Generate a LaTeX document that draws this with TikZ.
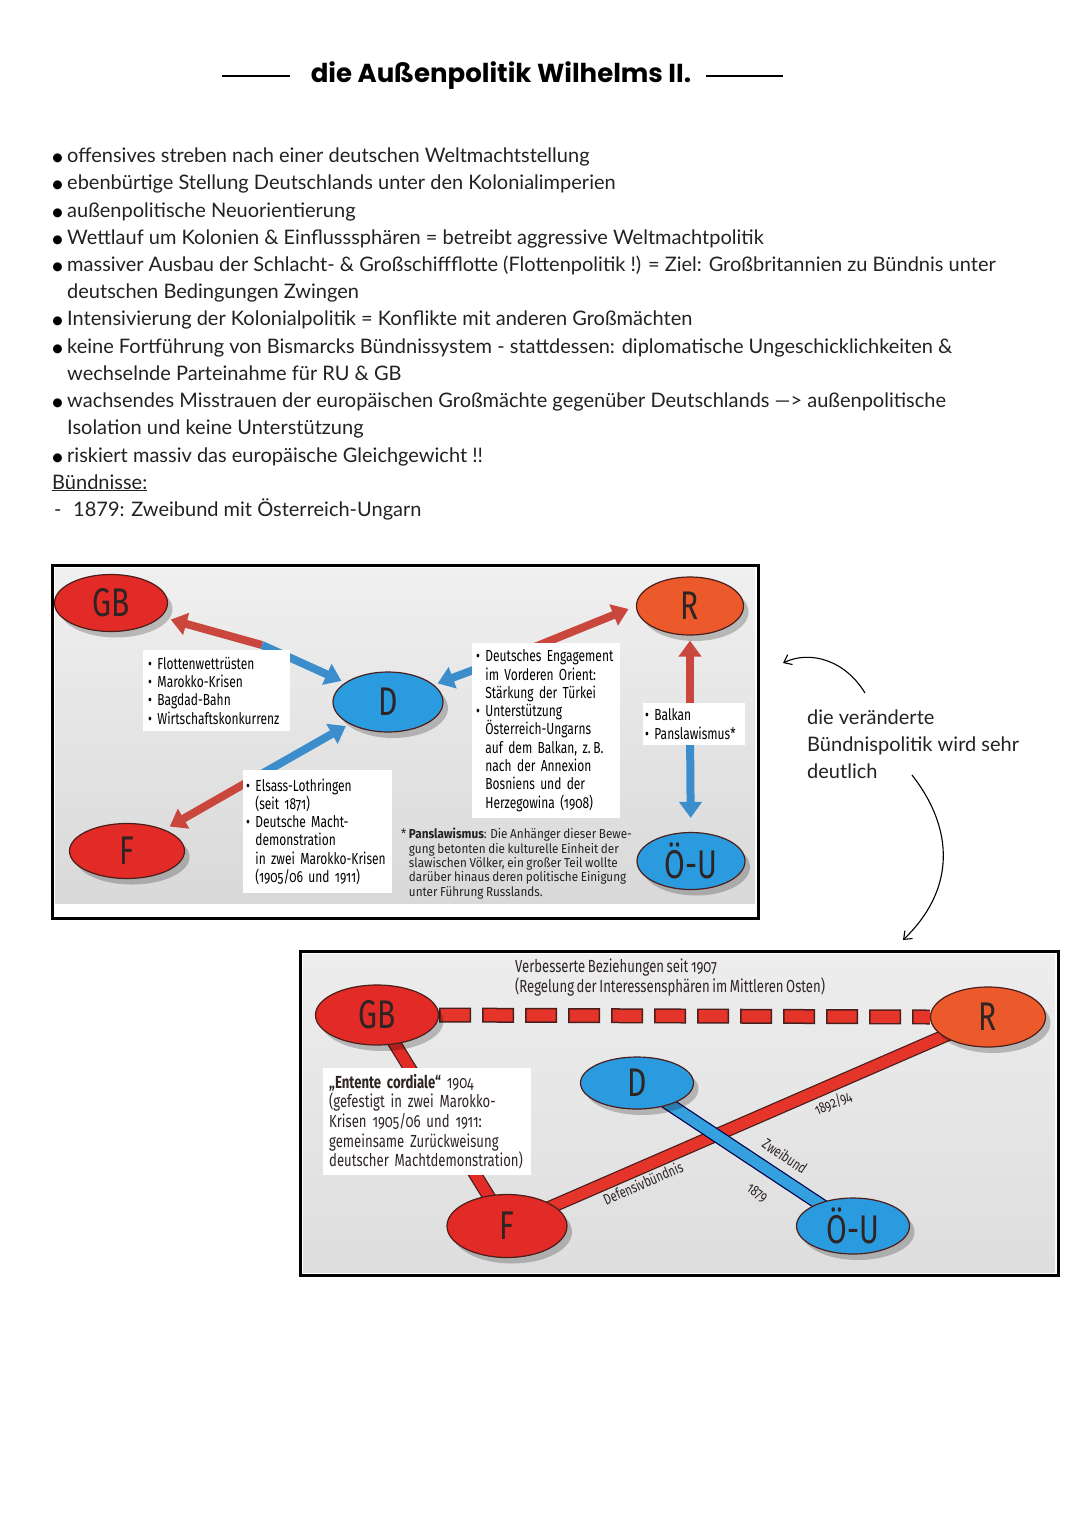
\documentclass[tikz,border=0pt]{standalone}
\usepackage{fontspec}
\setmainfont{Lato}
\newfontfamily\condf[FakeStretch=0.75,WordSpace=0.75,Numbers=OldStyle]{Fira Sans}
\newfontfamily\footf[FakeStretch=0.9,WordSpace=0.85,Numbers=OldStyle]{Fira Sans}
\newfontfamily\titlef{Poppins}
\usetikzlibrary{shapes.geometric,arrows.meta,shadows,calc}
\pgfdeclarelayer{back}\pgfdeclarelayer{bg}\pgfsetlayers{back,bg,main}
\definecolor{ink}{HTML}{222222}
\definecolor{cred}{HTML}{E22A26}
\definecolor{corange}{HTML}{EC5A2C}
\definecolor{cblue}{HTML}{2B9BE0}
\definecolor{edgec}{HTML}{4A1E1A}
\definecolor{arred}{HTML}{C9473D}
\definecolor{arblue}{HTML}{3C8DCB}
\definecolor{lbl}{HTML}{2E2424}
\definecolor{linered}{HTML}{E5352A}
\definecolor{lineblue}{HTML}{35A0DE}
\begin{document}
\begin{tikzpicture}[x=1pt,y=-1pt,
  state/.style={ellipse, draw=edgec, line width=1.2pt, inner sep=0pt,
    font=\condf\fontsize{40}{40}\selectfont, text=lbl,
    drop shadow={shadow xshift=5pt, shadow yshift=-6pt, fill=black, opacity=0.22}},
  body/.style={anchor=base west, inner sep=0pt, font=\fontsize{20}{24}\selectfont, text=ink},
  bul/.style={anchor=center, inner sep=0pt, font=\fontsize{24}{24}\selectfont, text=black},
  tbox/.style={fill=white, anchor=north west, align=left, inner xsep=5pt, inner ysep=0pt,
    font=\condf\fontsize{16}{18.3}\selectfont, text=black,
    execute at begin node={\hyphenpenalty=10000\exhyphenpenalty=10000}},
  redarr/.style={draw=arred, line width=8pt, -{Triangle[length=16pt,width=22pt]}},
  bluearr/.style={draw=arblue, line width=8pt, -{Triangle[length=16pt,width=22pt]}},
  thickline/.style={line width=11pt, preaction={draw=edgec, line width=13.5pt}},
  rlabel/.style={font=\condf\fontsize{15}{15}\selectfont, text=lbl, inner sep=0pt},
  hand/.style={line width=1.1pt, draw=black, -{Straight Barb[length=7pt,width=11pt]}}
]
\begin{pgfonlayer}{back}
\fill[white] (0,0) rectangle (1080,1527);
\end{pgfonlayer}
\useasboundingbox (0,0) rectangle (1080,1527);

% ---------- title ----------
\node[font=\titlef\bfseries\fontsize{26}{30}\selectfont, text=black, inner sep=0pt] (title) at (501,76) {die Außenpolitik Wilhelms II.};
\coordinate (tla) at (222,76); \coordinate (tlb) at (290,76);
\coordinate (tra) at (706,76); \coordinate (trb) at (783,76);
\draw[line width=1.3pt] (tla) -- (tlb);
\draw[line width=1.3pt] (tra) -- (trb);

% ---------- bullet text ----------
\foreach \yy/\nm in {162/p1,189/p2,217/p3,244/p4,271/p5,325/p6,353/p7,407/p8,462/p9}
  \node[bul] (\nm) at (57.5,\yy-2) {\textbullet};
\node[body] (t1) at (67,162) {offensives streben nach einer deutschen Weltmachtstellung};
\node[body] (t2) at (67,189) {ebenbürtige Stellung Deutschlands unter den Kolonialimperien};
\node[body] (t3) at (67,217) {außenpolitische Neuorientierung};
\node[body] (t4) at (67,244) {Wettlauf um Kolonien \& Einflusssphären = betreibt aggressive Weltmachtpolitik};
\node[body] (t5) at (67,271) {massiver Ausbau der Schlacht- \& Großschiffflotte (Flottenpolitik !) = Ziel: Großbritannien zu Bündnis unter};
\node[body] (t6) at (67,298) {deutschen Bedingungen Zwingen};
\node[body] (t7) at (67,325) {Intensivierung der Kolonialpolitik = Konflikte mit anderen Großmächten};
\node[body] (t8) at (67,353) {keine Fortführung von Bismarcks Bündnissystem - stattdessen: diplomatische Ungeschicklichkeiten \&};
\node[body] (t9) at (67,380) {wechselnde Parteinahme für RU \& GB};
\node[body] (t10) at (67,407) {wachsendes Misstrauen der europäischen Großmächte gegenüber Deutschlands —> außenpolitische};
\node[body] (t11) at (67,434) {Isolation und keine Unterstützung};
\node[body] (t12) at (67,462) {riskiert massiv das europäische Gleichgewicht !!};
\node[body] (t13) at (52,489) {\underline{Bündnisse:}};
\node[body] (d14) at (54,516) {-};
\node[body] (t14) at (73,516) {1879: Zweibund mit Österreich-Ungarn};

% ---------- top diagram ----------
\begin{pgfonlayer}{back}
\shade[top color=black!6, bottom color=black!15] (55,568) rectangle (755,903);
\end{pgfonlayer}
\draw[line width=3pt] (52,565) rectangle (758,918);

\node[state, fill=cred, minimum width=113, minimum height=57] (gb1) at (111,603) {GB};
\node[state, fill=cblue, minimum width=110, minimum height=60] (d1) at (388,702) {D};
\node[state, fill=cred, minimum width=115, minimum height=55] (f1) at (127,851) {F};
\node[state, fill=corange, minimum width=107, minimum height=58] (r1) at (690,606) {R};
\node[state, fill=cblue, minimum width=108, minimum height=57] (ou1) at (691,861) {Ö-U};

\coordinate (m1) at (262,645);
\coordinate (m2) at (258,776);
\coordinate (m3) at (532,648);
\coordinate (m4) at (690,728);
\draw[redarr, shorten >=10pt] (m1) -- (gb1);
\draw[bluearr, shorten >=4pt] (m1) -- (d1);
\draw[redarr, shorten >=6pt] (m2) -- (f1);
\draw[bluearr, shorten >=4pt] (m2) -- (d1);
\draw[bluearr, shorten >=4pt] (m3) -- (d1);
\draw[redarr, shorten >=8pt] (m3) -- (r1.west);
\draw[redarr, shorten >=5pt] (m4) -- (r1);
\draw[bluearr, shorten >=14pt] (m4) -- (ou1);

\node[tbox, text width=137, minimum height=81] (box1) at (143,650)
 {\textbullet\ Flottenwettrüsten\\\textbullet\ Marokko-Krisen\\\textbullet\ Bagdad-Bahn\\\textbullet\ Wirtschaftskonkurrenz};
\node[tbox, text width=143, minimum height=123, inner xsep=3pt] (box2) at (243,770)
 {\textbullet\ Elsass-Lothringen\\\phantom{\textbullet\ }(seit 1871)\\\textbullet\ Deutsche Macht-\\\phantom{\textbullet\ }demonstration\\\phantom{\textbullet\ }in zwei Marokko-Krisen\\\phantom{\textbullet\ }(1905/06 und 1911)};
\node[tbox, text width=140, minimum height=175, inner xsep=4pt] (box3) at (472,643)
 {\textbullet\ Deutsches Engagement\\\phantom{\textbullet\ }im Vorderen Orient:\\\phantom{\textbullet\ }Stärkung der Türkei\\\textbullet\ Unterstützung\\\phantom{\textbullet\ }Österreich-Ungarns\\\phantom{\textbullet\ }auf dem Balkan, z.\,B.\\\phantom{\textbullet\ }nach der Annexion\\\phantom{\textbullet\ }Bosniens und der\\\phantom{\textbullet\ }Herzegowina (1908)};
\node[tbox, text width=98, minimum height=42, inner xsep=2pt] (box4) at (643,703)
 {\textbullet\ Balkan\\\textbullet\ Panslawismus*};
\node[anchor=north west, align=left, inner sep=0pt, text=ink,
  font=\footf\fontsize{13}{14.4}\selectfont] (foot) at (401,828)
 {* \textbf{Panslawismus}: Die Anhänger dieser Bewe-\\\phantom{* }gung betonten die kulturelle Einheit der\\\phantom{* }slawischen Völker, ein großer Teil wollte\\\phantom{* }darüber hinaus deren politische Einigung\\\phantom{* }unter Führung Russlands.};

% ---------- annotation ----------
\node[body] (n1) at (807,724) {die veränderte};
\node[body] (n2) at (807,751) {Bündnispolitik wird sehr};
\node[body] (n3) at (807,778) {deutlich};
\coordinate (ca) at (865,693); \coordinate (cb) at (783,663);
\coordinate (cc) at (912,775); \coordinate (cd) at (903,940);
\draw[hand] (ca) .. controls (845,660) and (810,650) .. (cb);
\draw[hand] (cc) .. controls (955,830) and (955,890) .. (cd);

% ---------- bottom diagram ----------
\begin{pgfonlayer}{back}
\shade[top color=black!7, bottom color=black!13] (303,954) rectangle (1055,1272);
\end{pgfonlayer}
\draw[line width=3pt] (300,951) rectangle (1058,1275);

\node[state, fill=cred, minimum width=123, minimum height=60] (gb2) at (377,1015) {GB};
\node[state, fill=corange, minimum width=115, minimum height=60] (r2) at (988,1017) {R};
\node[state, fill=cblue, minimum width=113, minimum height=52] (d2) at (637,1083) {D};
\node[state, fill=cred, minimum width=120, minimum height=63] (f2) at (507,1226) {F};
\node[state, fill=cblue, minimum width=113, minimum height=56] (ou2) at (853,1226) {Ö-U};

\begin{pgfonlayer}{bg}
\draw[line width=15pt, draw=edgec, dash pattern=on 32pt off 11pt] (gb2.east) -- (r2.west);
\draw[line width=12pt, draw=linered, dash pattern=on 29pt off 14pt, dash phase=41.5pt] (gb2.east) -- (r2.west);
\draw[thickline, draw=cred] (gb2.center) -- (f2.center);
\draw[thickline, draw=linered] (f2.center) -- (r2.center);
\draw[line width=11pt, draw=lineblue, preaction={draw=black!70!blue, line width=13.5pt}] (d2.center) -- (ou2.center);
\end{pgfonlayer}

\node[anchor=north west, align=left, inner sep=0pt, text=lbl,
  font=\condf\fontsize{17.5}{18}\selectfont] (verb) at (515,959)
 {Verbesserte Beziehungen seit 1907\\(Regelung der Interessensphären im Mittleren Osten)};
\node[tbox, text width=196, minimum height=107, inner xsep=6pt, font=\condf\fontsize{17.5}{19.6}\selectfont, text=lbl] (ent) at (323,1068)
 {\textbf{„Entente cordiale“} 1904\\(gefestigt in zwei Marokko-\\Krisen 1905/06 und 1911:\\gemeinsame Zurückweisung\\deutscher Machtdemonstration)};
\node[rlabel, rotate=23.5] (def) at (643,1183) {Defensivbündnis};
\node[rlabel, rotate=23.5] (yr1) at (833,1103) {1892/94};
\node[rlabel, rotate=-34] (zw) at (785,1156) {Zweibund};
\node[rlabel, rotate=-34] (yr2) at (757,1193) {1879};
\end{tikzpicture}
\end{document}
